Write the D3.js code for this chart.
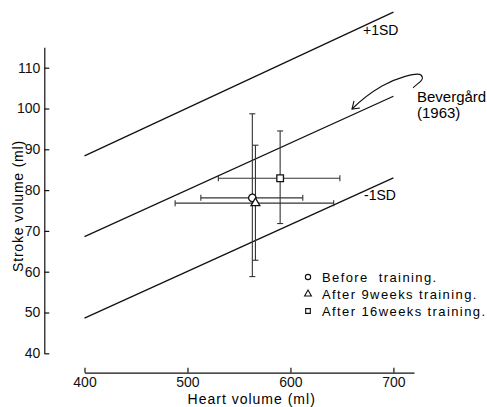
<!DOCTYPE html>
<html>
<head>
<meta charset="utf-8">
<script src="https://cdn.jsdelivr.net/npm/d3@7"></script>
<style>
  body { margin: 0; background: #fff; }
  svg { font-family: "Liberation Sans", Arial, sans-serif; }
</style>
</head>
<body>
<svg class="chart"></svg>
<script>
// groups and their means / error bar ends
var groups = ["Before  training.", "After 9weeks training.", "After 16weeks training."];
var symbols = [d3.symbolCircle, d3.symbolTriangle, d3.symbolSquare];
var heartMean = [563, 566, 590];
var heartLow = [513, 488, 530];
var heartHigh = [612, 642, 648];
var strokeMean = [78.1, 76.8, 82.9];
var strokeLow = [58.8, 62.8, 71.8];
var strokeHigh = [98.7, 91.0, 94.5];

// Bevergård (1963) regression line and +-1SD band
var lineX = [400, 700];
var upperSD = [88.4, 123.6];
var meanLine = [68.6, 103.0];
var lowerSD = [48.6, 83.0];

var xTicks = [400, 500, 600, 700];
var yTicks = [40, 50, 60, 70, 80, 90, 100, 110];

var width = 487, height = 407;

var svg = d3.select(".chart")
	.attr("width", width)
	.attr("height", height);

var x = d3.scaleLinear().domain([400, 720]).range([84.5, 414]);
var y = d3.scaleLinear().domain([40, 115]).range([353.3, 47.3]);

// axes
var yAxis = svg.append("g")
	.attr("transform", "translate(44.3,0)")
	.call(d3.axisLeft(y).tickValues(yTicks).tickSizeInner(-5).tickSizeOuter(0).tickPadding(4));

var xAxis = svg.append("g")
	.attr("transform", "translate(0,372.7)")
	.call(d3.axisBottom(x).tickValues(xTicks).tickSizeInner(-5).tickSizeOuter(0).tickPadding(4));

svg.selectAll(".domain, .tick line").attr("stroke", "#111").attr("stroke-width", 1.2);
svg.selectAll(".tick text").attr("font-size", 14).attr("fill", "#111")
	.attr("font-family", "Liberation Sans, Arial, sans-serif");

svg.append("text")
	.attr("x", 251.7).attr("y", 403.5)
	.attr("text-anchor", "middle")
	.attr("font-size", 14)
	.attr("letter-spacing", 1)
	.text("Heart volume (ml)");

svg.append("text")
	.attr("transform", "translate(23,206) rotate(-90)")
	.attr("text-anchor", "middle")
	.attr("font-size", 14)
	.attr("letter-spacing", 0.8)
	.text("Stroke volume (ml)");

// regression lines
var line = d3.line()
	.x(function(d, i) { return x(lineX[i]); })
	.y(function(d) { return y(d); });

svg.append("g").selectAll("path")
	.data([upperSD, meanLine, lowerSD])
	.enter()
	.append("path")
		.attr("d", line)
		.attr("fill", "none")
		.attr("stroke", "#111")
		.attr("stroke-width", 1.3);

svg.append("text").attr("x", 363).attr("y", 35).attr("font-size", 14).text("+1SD");
svg.append("text").attr("x", 364).attr("y", 200).attr("font-size", 14).text("-1SD");
svg.append("text").attr("x", 417).attr("y", 102).attr("font-size", 15).text("Bevergård");
svg.append("text").attr("x", 417).attr("y", 118).attr("font-size", 15).text("(1963)");

// curly arrow pointing at the regression line
svg.append("path")
	.attr("d", "M413,88 C416,84 426,80 421,75 C417,72 396,78 382,86 C370,93 360,101 352,109")
	.attr("fill", "none").attr("stroke", "#111").attr("stroke-width", 1.1);
svg.append("path")
	.attr("d", "M360,108 L352,109 L354,101")
	.attr("fill", "none").attr("stroke", "#111").attr("stroke-width", 1.1);

// error bars
var cap = 3;
var bars = svg.append("g").attr("stroke", "#333").attr("stroke-width", 1.1);
groups.forEach(function(g, i) {
	var cx = x(heartMean[i]), cy = y(strokeMean[i]);
	bars.append("line").attr("x1", x(heartLow[i])).attr("x2", x(heartHigh[i])).attr("y1", cy).attr("y2", cy);
	bars.append("line").attr("x1", cx).attr("x2", cx).attr("y1", y(strokeLow[i])).attr("y2", y(strokeHigh[i]));
	[heartLow[i], heartHigh[i]].forEach(function(v) {
		bars.append("line").attr("x1", x(v)).attr("x2", x(v)).attr("y1", cy - cap).attr("y2", cy + cap);
	});
	[strokeLow[i], strokeHigh[i]].forEach(function(v) {
		bars.append("line").attr("x1", cx - cap).attr("x2", cx + cap).attr("y1", y(v)).attr("y2", y(v));
	});
});

// markers
svg.append("g").selectAll("path")
	.data(groups)
	.enter()
	.append("path")
		.attr("transform", function(d, i) { return "translate(" + x(heartMean[i]) + "," + y(strokeMean[i]) + ")"; })
		.attr("d", function(d, i) { return d3.symbol().type(symbols[i]).size(i == 1 ? 34 : 44)(); })
		.attr("fill", "#fff")
		.attr("stroke", "#111")
		.attr("stroke-width", 1.3);

// legend
var legend = svg.append("g").attr("transform", "translate(308,277)");
var item = legend.selectAll("g")
	.data(groups)
	.enter()
	.append("g")
		.attr("transform", function(d, i) { return "translate(0," + (i * 17) + ")"; });

item.append("path")
	.attr("d", function(d, i) { return d3.symbol().type(symbols[i]).size(i == 1 ? 20 : 22)(); })
	.attr("fill", "#fff")
	.attr("stroke", "#111")
	.attr("stroke-width", 1.1);

item.append("text")
	.attr("x", 14)
	.attr("dy", "0.36em")
	.attr("font-size", 13)
	.attr("letter-spacing", 1.4)
	.attr("xml:space", "preserve")
	.style("white-space", "pre")
	.text(function(d) { return d; });
</script>
</body>
</html>
